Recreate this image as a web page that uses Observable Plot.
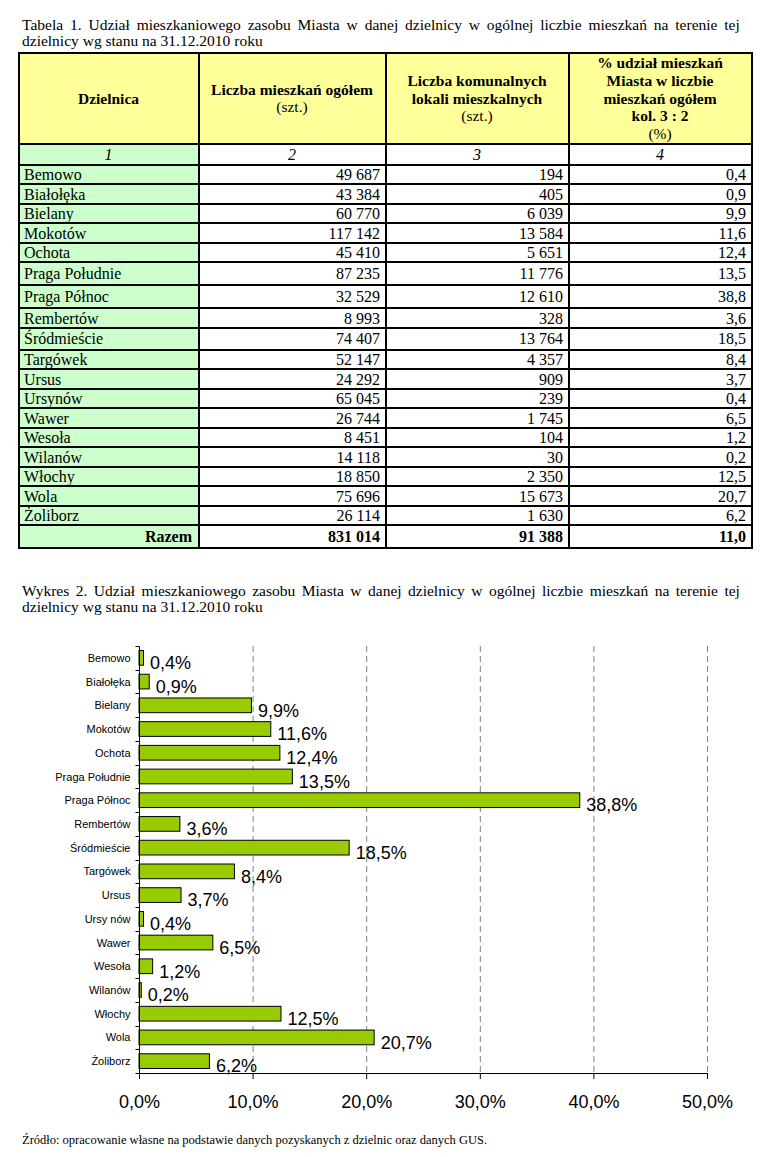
<!DOCTYPE html>
<html><head><meta charset="utf-8">
<script src="https://cdn.jsdelivr.net/npm/d3@7"></script>
<script src="https://cdn.jsdelivr.net/npm/@observablehq/plot@0.6"></script>
<style>
body{margin:0;background:#fff;width:777px;height:1157px;position:relative;overflow:hidden;font-family:"Liberation Serif","Times New Roman",serif;color:#000}
.title{position:absolute;left:22px;width:718px;font-size:15.5px;line-height:15.5px}
.title .l1{display:flex;justify-content:space-between;white-space:nowrap}
#tbl{position:absolute;left:18px;top:52px;border-collapse:collapse;table-layout:fixed;font-size:16px}
#tbl td{border:2px solid #000;padding:0 5px 0 4px;line-height:17px;white-space:nowrap;overflow:hidden}
#tbl tr.hd td{background:#ffff99;text-align:center;vertical-align:middle;font-size:15.5px;line-height:17.8px;height:88px}
#tbl tr.num td{text-align:center;font-style:italic;height:19px}
#tbl tr.d td{height:17.5px}
#tbl tr.d:nth-child(8) td,#tbl tr.d:nth-child(9) td{height:21px}
#tbl tr.d:nth-child(11) td{height:20px}
#tbl tr.tot td{height:21px;font-weight:bold}
#tbl td.nm{background:#ccffcc;text-align:left}
#tbl td.v{text-align:right}
#tbl tr.tot td.nm{text-align:right;padding-right:6px}
#chart{position:absolute;left:0;top:630px}
#chart svg{display:block}
#src{position:absolute;left:22px;top:1133px;font-size:12.5px;line-height:14px}
</style>
</head><body>
<div class="title" id="t1" style="top:17px"></div>
<table id="tbl"><colgroup><col style="width:180px"><col style="width:187px"><col style="width:183px"><col style="width:183px"></colgroup><tbody></tbody></table>
<div class="title" id="t2" style="top:583px"></div>
<div id="chart"></div>
<div id="src">Źródło: opracowanie własne na podstawie danych pozyskanych z dzielnic oraz danych GUS.</div>
<script>
// ---- data ----
const districts = ["Bemowo","Białołęka","Bielany","Mokotów","Ochota","Praga Południe","Praga Północ","Rembertów","Śródmieście","Targówek","Ursus","Ursynów","Wawer","Wesoła","Wilanów","Włochy","Wola","Żoliborz"];
const totalFlats = [49687,43384,60770,117142,45410,87235,32529,8993,74407,52147,24292,65045,26744,8451,14118,18850,75696,26114];
const municipalFlats = [194,405,6039,13584,5651,11776,12610,328,13764,4357,909,239,1745,104,30,2350,15673,1630];
const sharePct = [0.4,0.9,9.9,11.6,12.4,13.5,38.8,3.6,18.5,8.4,3.7,0.4,6.5,1.2,0.2,12.5,20.7,6.2];
const totalLabel = "Razem";
const totalAll = 831014;
const municipalAll = 91388;
const shareAll = 11.0;
const columnNumbers = ["1","2","3","4"];
const xTicks = [0,10,20,30,40,50];
const chartLabelOverrides = {"Ursynów":"Ursy nów"};
const titleLine1 = "Udział mieszkaniowego zasobu Miasta w danej dzielnicy w ogólnej liczbie mieszkań na terenie tej";
const titleLine2 = "dzielnicy wg stanu na 31.12.2010 roku";

// ---- titles ----
function setTitle(el, prefix){
  const words = (prefix + " " + titleLine1).split(" ");
  el.innerHTML = '<div class="l1">' + words.map(w=>"<span>"+w+"</span>").join("") + '</div><div>' + titleLine2 + '</div>';
}
setTitle(document.getElementById("t1"), "Tabela 1.");
setTitle(document.getElementById("t2"), "Wykres 2.");

// ---- table ----
const fmtInt = n => d3.format(",")(n).replace(/,/g, "\u00a0");
const fmtDec = v => v.toFixed(1).replace(".", ",");
const tb = d3.select("#tbl tbody");
const hd = tb.append("tr").attr("class","hd");
hd.append("td").html("<b>Dzielnica</b>");
hd.append("td").html("<b>Liczba mieszkań ogółem</b><br>(szt.)");
hd.append("td").html("<b>Liczba komunalnych<br>lokali mieszkalnych</b><br>(szt.)");
hd.append("td").html("<b>% udział mieszkań<br>Miasta w liczbie<br>mieszkań ogółem<br>kol. 3 : 2</b><br>(%)");
const nr = tb.append("tr").attr("class","num");
columnNumbers.forEach((c,i)=> nr.append("td").attr("class", i===0?"nm":null).style("text-align","center").text(c));
districts.forEach((d,i)=>{
  const tr = tb.append("tr").attr("class","d");
  tr.append("td").attr("class","nm").text(d);
  tr.append("td").attr("class","v").text(fmtInt(totalFlats[i]));
  tr.append("td").attr("class","v").text(fmtInt(municipalFlats[i]));
  tr.append("td").attr("class","v").text(fmtDec(sharePct[i]));
});
const tt = tb.append("tr").attr("class","tot");
tt.append("td").attr("class","nm").text(totalLabel);
tt.append("td").attr("class","v").text(fmtInt(totalAll));
tt.append("td").attr("class","v").text(fmtInt(municipalAll));
tt.append("td").attr("class","v").text(fmtDec(shareAll));

// ---- chart ----
const rows = districts.map((name,i)=>({name, share: sharePct[i]}));
const fmtPct = v => fmtDec(v) + "%";
const padInner = 0.38, padOuter = 0.19;
function axisDecor(index, scales, values, dims){
  const g = d3.create("svg:g").attr("stroke","#000").attr("fill","none").attr("stroke-width",1);
  const x0 = Math.round(scales.x(0)) + 0.5, x1 = Math.round(scales.x(xTicks[xTicks.length-1])) + 0.5;
  const step = scales.y(districts[1]) - scales.y(districts[0]);
  const ys = districts.map(d => scales.y(d) - step*padOuter);
  ys.push(scales.y(districts[districts.length-1]) + step*(1-padOuter));
  ys.forEach(yy => { const r = Math.round(yy)+0.5; g.append("line").attr("x1",x0-4).attr("x2",x0).attr("y1",r).attr("y2",r); });
  const b = Math.round(dims.height - dims.marginBottom) + 0.5;
  g.append("line").attr("x1",x0).attr("x2",x1).attr("y1",b).attr("y2",b);
  g.append("line").attr("x1",x0).attr("x2",x0).attr("y1",Math.round(dims.marginTop)+0.5).attr("y2",b);
  return g.node();
}
const chart = Plot.plot({
  width: 777, height: 490,
  marginTop: 16, marginBottom: 47, marginLeft: 139, marginRight: 70,
  style: {fontFamily: '"Liberation Sans", Arial, sans-serif', color: "#000", background: "transparent"},
  x: {domain: [0, 50], label: null},
  y: {domain: districts, paddingInner: padInner, paddingOuter: padOuter, round: false, label: null},
  marks: [
    Plot.ruleX(xTicks.slice(1), {stroke: "#808080", strokeWidth: 1, strokeDasharray: "6,4"}),
    Plot.barX(rows, {x: "share", y: "name", fill: "#99cc00", stroke: "#000", strokeWidth: 1}),
    Plot.text(rows, {x: "share", y: "name", text: d => fmtPct(d.share), textAnchor: "start", dx: 6, dy: 5, fontSize: 18, fill: "#000"}),
    Plot.axisY({tickSize: 0, tickPadding: 9, fontSize: 11, label: null, tickFormat: d => chartLabelOverrides[d] || d}),
    Plot.axisX({ticks: xTicks, tickSize: 6, tickPadding: 16, fontSize: 18, label: null, tickFormat: fmtPct}),
    axisDecor
  ]
});
document.getElementById("chart").appendChild(chart);
</script>
</body></html>
